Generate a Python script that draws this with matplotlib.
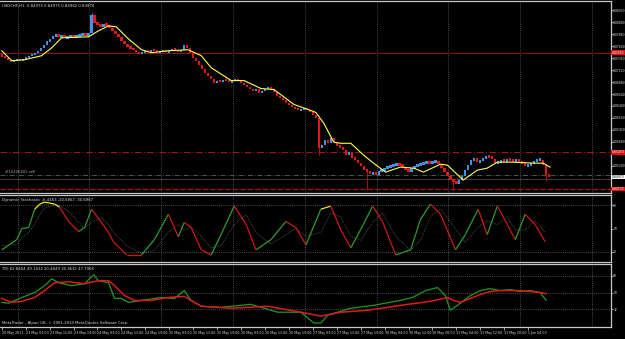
import numpy as np
import matplotlib.pyplot as plt
from matplotlib.ticker import FixedLocator, FuncFormatter
from matplotlib.collections import LineCollection

plt.rcParams['font.family'] = 'DejaVu Sans'
plt.rcParams['font.stretch'] = 'condensed'

# ---- main chart data (USDCHF H1), prices in points (x 1e-4) ----
first_open = 8745
closes = [8739, 8735, 8731, 8729, 8731, 8733, 8731, 8735, 8737, 8741, 8743,
          8747, 8751, 8757, 8763, 8771, 8775, 8781,
          8783, 8779, 8781, 8777, 8779, 8781, 8779, 8781,
          8783, 8785, 8781, 8787, 8823, 8807,
          8803, 8799, 8805, 8801, 8797,
          8791, 8785, 8779, 8771, 8765, 8759, 8755, 8751, 8747, 8745,
          8747, 8751, 8749, 8753, 8751, 8747, 8749, 8751, 8747, 8751, 8755, 8751, 8749, 8753, 8763, 8757,
          8747, 8737, 8731, 8723, 8715, 8707, 8701, 8695, 8687,
          8691, 8689, 8693, 8691, 8687, 8691, 8693, 8689, 8685, 8681,
          8677, 8673, 8671, 8675, 8667, 8671, 8675, 8677, 8675, 8669, 8661,
          8655, 8651, 8645, 8641, 8637, 8635, 8631, 8633,
          8635, 8631, 8627, 8621, 8615, 8555,
          8561, 8571, 8565, 8575, 8567,
          8559, 8555, 8551, 8541, 8547, 8535,
          8531, 8525, 8519, 8511, 8507,
          8503, 8507, 8501, 8509, 8511,
          8515, 8517, 8519, 8521, 8523, 8521,
          8517, 8511, 8507, 8515,
          8519, 8521, 8523, 8525, 8527, 8525, 8527, 8529, 8523,
          8515, 8507, 8499, 8491, 8487, 8483, 8491,
          8499, 8511, 8521, 8531, 8535, 8527,
          8531, 8535, 8539, 8537, 8533, 8525,
          8527, 8531, 8529, 8533, 8531, 8529, 8531, 8527,
          8523, 8519, 8521, 8525, 8529, 8531, 8531,
          8521, 8501, 8497]
spike_bars = [30, 106, 122, 151, 182]
spike_prices = [8829, 8541, 8471, 8475, 8489]

ma_hours = [0, 3.3, 7.7, 13.3, 16.7, 20, 29, 32.3, 35.7, 38.3,
            42.3, 46.7, 50, 55.7, 62.3, 66.7, 70, 76.7, 81, 86.7,
            91, 97.7, 103.3, 105, 107.7, 111, 113.3, 116.7, 121, 124.3,
            128.3, 133.3, 137.7, 141, 146.7, 149, 154.3, 159, 162.3, 165.7,
            171, 177.7, 181, 183.3]
ma_prices = [8751, 8731, 8733, 8741, 8757, 8777, 8779, 8791, 8801, 8799,
             8775, 8753, 8747, 8751, 8753, 8741, 8717, 8691, 8691, 8675,
             8673, 8643, 8631, 8627, 8605, 8567, 8565, 8565, 8541, 8525,
             8507, 8517, 8515, 8507, 8523, 8521, 8491, 8511, 8515, 8527,
             8527, 8525, 8525, 8517]

resist_price = 0.8747
upper_price = 0.8547
order_price = 0.8501
bid_price = 0.8497
lower_price = 0.8473

# ---- stochastic ----
stoch_hours = [0, 5, 6.7, 9, 11, 12.7, 14.3, 17.7, 19.3, 22.3,
               25.7, 27.7, 30, 33.3, 35.7, 37.3, 41.7, 46.7, 51, 55.7,
               59, 61, 63.3, 66.7, 70, 73.3, 77.7, 81.7, 85, 90,
               95, 98.3, 101.7, 106.7, 110, 113.3, 116.7, 120, 124, 127.3,
               131.7, 136.7, 140, 143.3, 146.7, 151.7, 155, 159.3, 162.3, 165.7,
               169, 171.7, 175, 178.3, 181.7]
stoch_main = [22.6, 35.7, 50, 51.3, 74.8, 81.3, 83.9, 81.3, 77.4, 59.1,
              46.1, 51.3, 74.8, 57.8, 44.8, 33.0, 16.1, 16.1, 35.7, 68.3,
              39.6, 57.8, 51.3, 22.6, 16.1, 42.2, 78.7, 55.2, 22.6, 35.7,
              59.1, 51.3, 29.1, 74.8, 78.7, 48.7, 25.2, 48.7, 78.7, 59.1,
              16.1, 22.6, 61.7, 81.3, 68.3, 22.6, 42.2, 74.8, 42.2, 78.7,
              55.2, 35.7, 68.3, 55.2, 33.0]
stoch_signal = [28, 30, 38, 45, 55, 68, 76, 80, 80, 72,
                58, 50, 58, 64, 55, 45, 28, 18, 22, 45,
                55, 48, 52, 40, 25, 28, 55, 68, 45, 30,
                42, 50, 40, 45, 70, 65, 40, 35, 58, 70,
                40, 22, 35, 65, 75, 50, 32, 52, 60, 55,
                65, 48, 48, 60, 45]

# ---- TDI ----
tdi_green_hours = [0, 2.3, 6.7, 11, 14.3, 16.7, 19, 23.3, 27.7, 30.7,
                   32.3, 35.7, 37.7, 40, 42.3, 46.7, 53.3, 57.7, 61, 63.3,
                   66.7, 73.3, 83.3, 92.3, 100, 104.3, 106.7, 109, 116.7, 124.3,
                   133.3, 137.3, 141.7, 145.7, 148.3, 150, 153.3, 156.7, 160, 163.3,
                   166.7, 170, 173.3, 176.7, 180, 182]
tdi_green = [39.4, 38.4, 44.7, 50, 57.4, 64.8, 60.6, 57.4, 59.5, 69.1,
             62.7, 60.6, 43.6, 43.6, 39.4, 41.5, 44.7, 43.6, 52.1, 41.5,
             35.2, 34.1, 37.3, 28.8, 28.8, 17.2, 17.2, 25.6, 33.1, 36.2,
             41.5, 44.7, 52.1, 55.3, 46.8, 30.9, 38.4, 46.8, 52.1, 54.2,
             52.1, 53.2, 51.1, 52.1, 50, 41.5]
tdi_red_hours = [0, 3.3, 6.7, 11, 14.3, 17.7, 22.3, 27.7, 32.3, 35.7,
                 37.7, 41, 44.3, 50, 55.7, 61, 66.7, 76.7, 89, 100,
                 106.7, 113.3, 122.3, 129, 135.7, 141, 145, 149, 151, 153.3,
                 156.7, 160, 163.3, 166.7, 170, 173.3, 176.7, 180, 182]
tdi_red = [43.6, 39.4, 40.5, 44.7, 52.1, 60.6, 61.6, 59.5, 62.7, 62.7,
           57.4, 46.8, 41.5, 41.5, 44.7, 45.8, 35.2, 33.1, 35.2, 28.8,
           24.6, 28.8, 30.9, 34.1, 37.3, 39.4, 41.5, 44.7, 41.5, 39.4,
           43.6, 47.9, 51.1, 52.1, 52.1, 52.1, 51.1, 50, 48.9]

time_labels = ['20 May 2011', '23 May 03:00', '23 May 11:00', '23 May 19:00',
               '24 May 03:00', '24 May 11:00', '24 May 19:00', '25 May 03:00',
               '25 May 11:00', '25 May 19:00', '26 May 03:00', '26 May 11:00',
               '26 May 19:00', '27 May 03:00', '27 May 11:00', '27 May 19:00',
               '30 May 04:00', '30 May 12:00', '30 May 20:00', '31 May 04:00',
               '31 May 12:00', '31 May 20:00', '1 Jun 04:00']

# ---- figure ----
W, H = 625, 339
fig = plt.figure(figsize=(W / 100, H / 100), dpi=100, facecolor='black')

def frac(x0, y0, x1, y1):
    return [x0 / W, 1 - y1 / H, (x1 - x0) / W, (y1 - y0) / H]

ax_main = fig.add_axes(frac(0, 1, 611, 193))
ax_sto = fig.add_axes(frac(0, 195, 611, 262), sharex=ax_main)
ax_tdi = fig.add_axes(frac(0, 264, 611, 327), sharex=ax_main)

grid_col = '#8c8c8c'
txt_col = '#dcdcdc'
fs = 3.1      # panel captions
fs_y = 2.4    # right scale
fs_x = 2.6    # time scale

for ax in (ax_main, ax_sto, ax_tdi):
    ax.set_facecolor('black')
    ax.spines['left'].set_visible(False)
    for s in ('top', 'bottom', 'right'):
        ax.spines[s].set_color('#c8c8c8')
        ax.spines[s].set_linewidth(0.9)
    ax.yaxis.tick_right()
    ax.tick_params(axis='y', colors=txt_col, labelsize=fs_y, length=1.2, width=0.5, pad=0.4)
    ax.tick_params(axis='x', colors=txt_col, labelsize=fs_x, length=2, width=0.5, pad=0.8)
    # vertical dotted grid every 24 bars
    for gx in np.arange(5.3, 204, 24):
        ax.axvline(gx, color=grid_col, lw=0.5, ls=(0, (1, 2)), zorder=0)

ax_main.set_xlim(-0.6, 203.7)

# candles
closes_p = np.array(closes) / 1e4
opens_p = np.concatenate([[first_open / 1e4], closes_p[:-1]])
idx = np.arange(len(closes_p))
up = closes_p >= opens_p
small = np.abs(closes_p - opens_p) < 0.0005
body = np.where(small, np.where(up, 0.0005, -0.0005), closes_p - opens_p)
base = opens_p - np.where(small, np.where(up, 0.00015, -0.00015), 0)
ax_main.bar(idx[up], body[up], bottom=base[up], width=0.75, color='#3f92e8', zorder=2)
ax_main.bar(idx[~up], body[~up], bottom=base[~up], width=0.75, color='#e3161c', zorder=2)
for b, p in zip(spike_bars, spike_prices):
    c = '#2a6bb0' if up[b] else '#a01014'
    ax_main.vlines(b, min(p / 1e4, opens_p[b], closes_p[b]), max(p / 1e4, opens_p[b], closes_p[b]),
                   color=c, lw=0.8, zorder=1)

ax_main.plot(ma_hours, np.array(ma_prices) / 1e4, color='#ffff55', lw=0.8, zorder=3)

ax_main.axhline(resist_price, color='#8b1010', lw=0.8, zorder=1)
ax_main.axhline(upper_price, color='#a01515', lw=0.8, ls=(0, (6, 2, 1, 2)), zorder=1)
ax_main.axhline(order_price, color='#4f6a4f', lw=0.6, ls=(0, (6, 2, 1, 2)), zorder=1)
ax_main.axhline(bid_price - 0.0004, color='#3a3a3a', lw=0.8, zorder=1)
ax_main.axhline(lower_price, color='#b01515', lw=0.9, ls=(0, (4, 2)), zorder=1)

ax_main.set_ylim(0.8465, 0.8851)
tags = [resist_price, upper_price, bid_price, lower_price]
main_ticks = [t for t in np.arange(0.8472, 0.8851, 0.0024)
              if min(abs(t - g) for g in tags) > 0.0009]
ax_main.yaxis.set_major_locator(FixedLocator(main_ticks))
ax_main.yaxis.set_major_formatter(FuncFormatter(lambda v, p: f'{v:.5f}'))

def price_tag(ax, y, fc, tc):
    ax.text(1.001, y, f'{y:.5f}', transform=ax.get_yaxis_transform(), fontsize=fs_y,
            color=tc, va='center', ha='left',
            bbox=dict(boxstyle='square,pad=0.12', fc=fc, ec='none'), clip_on=False, zorder=5)

price_tag(ax_main, resist_price, '#e01010', 'white')
price_tag(ax_main, upper_price, '#e01010', 'white')
price_tag(ax_main, lower_price, '#e01010', 'white')
price_tag(ax_main, bid_price, 'white', 'black')

ax_main.text(0.004, 0.985, 'USDCHF,H1  0.84975 0.84975 0.84962 0.84970', transform=ax_main.transAxes,
             fontsize=fs, color=txt_col, va='top', ha='left')
ax_main.text(1.0, order_price + 0.0003, '#15226301 sell', fontsize=fs, color='#b0b0b0',
             va='bottom', ha='left')
ax_main.tick_params(axis='x', labelbottom=False, length=0)

# stochastic
pts = np.column_stack([stoch_hours, stoch_main])
segs = np.stack([pts[:-1], pts[1:]], axis=1)
cols = []
for a, b in zip(stoch_main[:-1], stoch_main[1:]):
    if min(a, b) >= 74:
        cols.append('#e8e830')
    elif b > a:
        cols.append('#2f9a2f')
    else:
        cols.append('#d01818')
ax_sto.add_collection(LineCollection(segs, colors=cols, linewidths=0.9, zorder=3))
ax_sto.plot(stoch_hours, stoch_signal, color='#6a8a6a', lw=0.5, ls=(0, (1, 1.5)), zorder=2)
for lv in (80, 20):
    ax_sto.axhline(lv, color=grid_col, lw=0.5, ls=(0, (1, 2)), zorder=0)
ax_sto.set_ylim(7, 93)
ax_sto.yaxis.set_major_locator(FixedLocator([80, 50, 20]))
ax_sto.yaxis.set_major_formatter(FuncFormatter(lambda v, p: f'{v:.0f}'))
ax_sto.text(0.004, 0.96, 'Dynamic Stochastic -6.4463 -20.6867 -30.6967', transform=ax_sto.transAxes,
            fontsize=fs, color=txt_col, va='top', ha='left')
ax_sto.tick_params(axis='x', labelbottom=False, length=0)

# TDI
ax_tdi.plot(tdi_green_hours, tdi_green, color='#1f9a1f', lw=0.9, zorder=3)
ax_tdi.plot(tdi_red_hours, tdi_red, color='#e01a1a', lw=1.1, zorder=3)
for lv in (68, 50, 32):
    ax_tdi.axhline(lv, color=grid_col, lw=0.5, ls=(0, (1, 2)), zorder=0)
ax_tdi.set_ylim(12.9, 80.7)
ax_tdi.yaxis.set_major_locator(FixedLocator([68, 50, 32]))
ax_tdi.yaxis.set_major_formatter(FuncFormatter(lambda v, p: f'{v:.0f}'))
ax_tdi.text(0.004, 0.96, 'TDI 62.8404 49.1632 20.4849 30.3632 47.7904', transform=ax_tdi.transAxes,
            fontsize=fs, color=txt_col, va='top', ha='left')
ax_tdi.text(0.004, 0.03, 'MetaTrader - Alpari UK, \u00a9 2001-2010 MetaQuotes Software Corp.',
            transform=ax_tdi.transAxes, fontsize=fs, color=txt_col, va='bottom', ha='left')

ax_tdi.set_xticks(np.arange(0, 8 * len(time_labels), 8))
ax_tdi.set_xticklabels(time_labels, ha='left')

fig.savefig('out.png', dpi=100, facecolor='black')
